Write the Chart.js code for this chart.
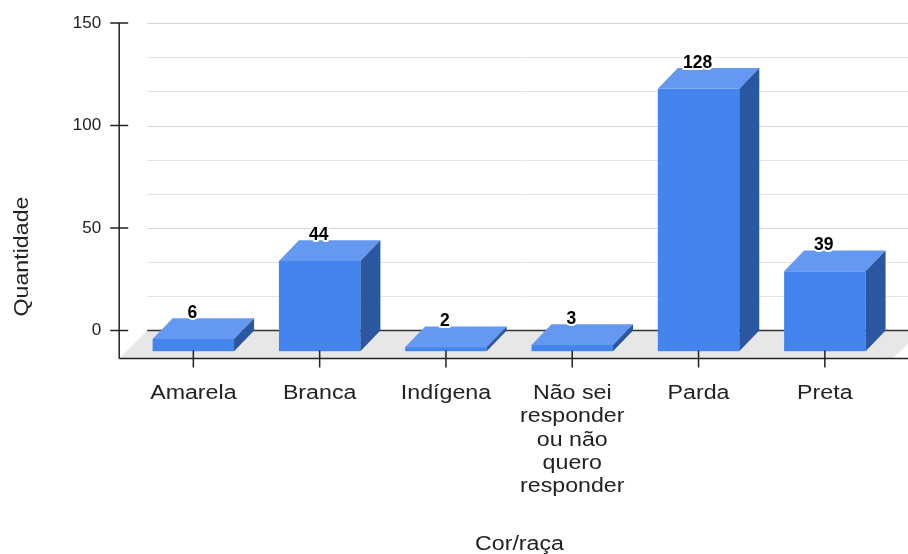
<!DOCTYPE html>
<html>
<head>
<meta charset="utf-8">
<script src="https://cdn.jsdelivr.net/npm/chart.js@4"></script>
<style>
  html, body { margin: 0; padding: 0; background: #fff; }
  #wrap { width: 908px; height: 554px; }
</style>
</head>
<body>
<div id="wrap"><canvas id="myChart"></canvas></div>
<script>
const categories = [
  ['Amarela'],
  ['Branca'],
  ['Indígena'],
  ['Não sei', 'responder', 'ou não', 'quero', 'responder'],
  ['Parda'],
  ['Preta']
];
const counts = [6, 44, 2, 3, 128, 39];
const yTickLabels = [0, 50, 100, 150];
const xTitle = 'Cor/raça';
const yTitle = 'Quantidade';

// box look
const DEPTH_X = 20;
const DEPTH_Y = 20.7;
const FLOOR_DEPTH = 28;
const FRONT = '#4384ef';
const TOP = '#6599f1';
const SIDE = '#2a579f';
const TEXT = '#222';
const FONT = '"Liberation Sans", Arial, sans-serif';
const STRETCH = 1.16;

function wideText(ctx, text, x, y, angle) {
  ctx.save();
  ctx.translate(x, y);
  if (angle) ctx.rotate(angle);
  ctx.scale(STRETCH, 1);
  ctx.fillText(text, 0, 0);
  ctx.restore();
}

function isMajor(v) {
  return yTickLabels.some(t => Math.abs(t - v) < 1e-6);
}

const box3d = {
  id: 'box3d',
  beforeDatasetsDraw(chart) {
    const { ctx, chartArea: area, scales: { y } } = chart;
    const zero = y.getPixelForValue(0);
    const axisX = area.left - 11;
    const front = zero + FLOOR_DEPTH;
    const right = chart.width;
    ctx.save();

    // floor
    ctx.fillStyle = '#e7e7e7';
    ctx.beginPath();
    ctx.moveTo(axisX, front);
    ctx.lineTo(axisX + FLOOR_DEPTH, zero);
    ctx.lineTo(area.right + 5 + FLOOR_DEPTH, zero);
    ctx.lineTo(area.right + 5, front);
    ctx.closePath();
    ctx.fill();

    // back wall grid
    ctx.lineWidth = 1;
    y.ticks.forEach(t => {
      if (t.value === 0) return;
      const py = Math.round(y.getPixelForValue(t.value)) + 0.5;
      ctx.strokeStyle = isMajor(t.value) ? '#d4d4d4' : '#e4e4e4';
      ctx.beginPath();
      ctx.moveTo(axisX + FLOOR_DEPTH, py);
      ctx.lineTo(right, py);
      ctx.stroke();
    });

    // back edge of the floor
    ctx.strokeStyle = '#333';
    ctx.lineWidth = 1.3;
    ctx.beginPath();
    ctx.moveTo(axisX + FLOOR_DEPTH, zero);
    ctx.lineTo(right, zero);
    ctx.stroke();
    ctx.restore();
  },
  afterDatasetsDraw(chart) {
    const { ctx } = chart;
    const meta = chart.getDatasetMeta(0);
    ctx.save();
    meta.data.forEach(bar => {
      const { x: cx, y: top, base, width } = bar.getProps(['x', 'y', 'base', 'width'], true);
      const l = cx - width / 2, r = cx + width / 2;
      const ft = top + DEPTH_Y, fb = base + DEPTH_Y;

      ctx.fillStyle = FRONT;
      ctx.fillRect(l, ft, width, fb - ft);

      ctx.fillStyle = TOP;
      ctx.beginPath();
      ctx.moveTo(l, ft);
      ctx.lineTo(l + DEPTH_X, top);
      ctx.lineTo(r + DEPTH_X, top);
      ctx.lineTo(r, ft);
      ctx.closePath();
      ctx.fill();

      ctx.fillStyle = SIDE;
      ctx.beginPath();
      ctx.moveTo(r, ft);
      ctx.lineTo(r + DEPTH_X, top);
      ctx.lineTo(r + DEPTH_X, base);
      ctx.lineTo(r, fb);
      ctx.closePath();
      ctx.fill();
    });

    // value labels
    ctx.font = 'bold 17.5px ' + FONT;
    ctx.textAlign = 'center';
    ctx.textBaseline = 'alphabetic';
    ctx.lineJoin = 'round';
    meta.data.forEach((bar, i) => {
      const lx = bar.x - 1, ly = bar.y - 0.5;
      const txt = String(counts[i]);
      ctx.strokeStyle = '#fff';
      ctx.lineWidth = 4;
      ctx.strokeText(txt, lx, ly);
      ctx.fillStyle = '#000';
      ctx.fillText(txt, lx, ly);
    });
    ctx.restore();
  },
  afterDraw(chart) {
    const { ctx, chartArea: area, scales: { x, y } } = chart;
    const zero = y.getPixelForValue(0);
    const axisX = area.left - 11;
    const front = zero + FLOOR_DEPTH;
    ctx.save();
    ctx.strokeStyle = '#222';
    ctx.lineWidth = 1.5;

    // axis lines
    ctx.beginPath();
    ctx.moveTo(axisX, y.getPixelForValue(150));
    ctx.lineTo(axisX, front);
    ctx.moveTo(axisX, front);
    ctx.lineTo(chart.width, front);
    ctx.stroke();

    // tick marks
    ctx.beginPath();
    y.ticks.forEach(t => {
      if (!isMajor(t.value)) return;
      const py = y.getPixelForValue(t.value);
      ctx.moveTo(axisX - 9, py);
      ctx.lineTo(axisX + 9, py);
    });
    categories.forEach((c, i) => {
      const px = x.getPixelForTick(i);
      ctx.moveTo(px, front - 8);
      ctx.lineTo(px, front + 9);
    });
    ctx.stroke();

    // category labels
    ctx.fillStyle = TEXT;
    ctx.font = '20px ' + FONT;
    ctx.textAlign = 'center';
    ctx.textBaseline = 'alphabetic';
    categories.forEach((lines, i) => {
      const px = x.getPixelForTick(i);
      lines.forEach((line, k) => wideText(ctx, line, px, front + 40.5 + k * 23.3));
    });

    // axis titles
    wideText(ctx, xTitle, 519.5, 550);
    wideText(ctx, yTitle, 28, 256.5, -Math.PI / 2);
    ctx.restore();
  }
};

const ctx = document.getElementById('myChart');
new Chart(ctx, {
  type: 'bar',
  data: {
    labels: categories,
    datasets: [{
      label: yTitle,
      data: counts,
      backgroundColor: 'rgba(0,0,0,0)',
      borderWidth: 0,
      barPercentage: 0.645,
      categoryPercentage: 1
    }]
  },
  options: {
    responsive: true,
    maintainAspectRatio: false,
    animation: false,
    layout: { padding: { top: 23, right: 20, bottom: 0, left: 0 } },
    plugins: {
      legend: { display: false },
      tooltip: { enabled: false }
    },
    scales: {
      x: {
        afterFit(scale) { scale.height = 223.5; },
        ticks: { display: false },
        grid: { display: false, drawTicks: false },
        border: { display: false }
      },
      y: {
        min: 0,
        max: 150,
        afterFit(scale) { scale.width = 130.2; },
        ticks: {
          stepSize: 50 / 3,
          padding: 0,
          color: TEXT,
          font: { size: 17, family: FONT },
          callback: v => isMajor(v) ? String(Math.round(v)) : ''
        },
        // tick marks are drawn by the plugin; tickLength only pushes the labels left
        grid: { display: false, drawTicks: true, tickLength: 29 },
        border: { display: false }
      }
    }
  },
  plugins: [box3d]
});
</script>
</body>
</html>
